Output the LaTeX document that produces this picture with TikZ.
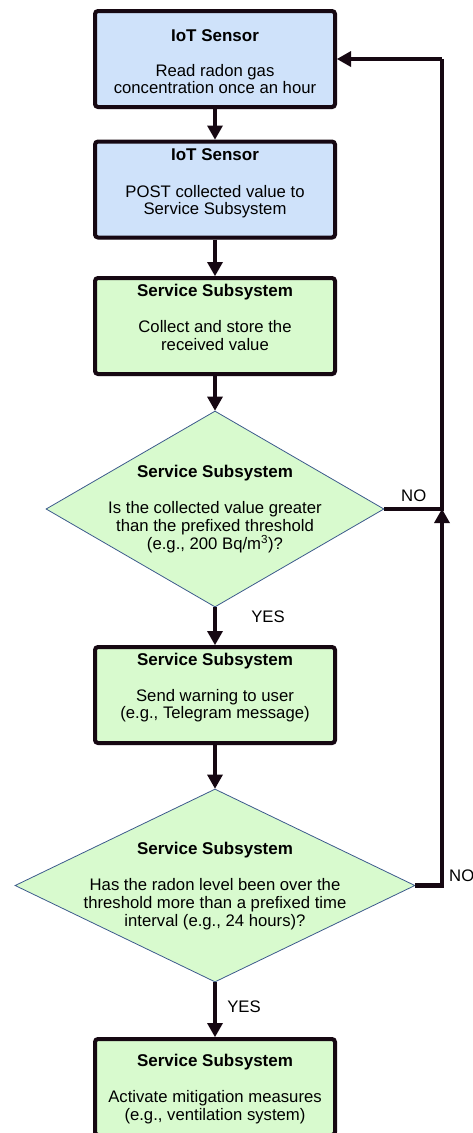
\documentclass[tikz,border=0pt]{standalone}
\usepackage{fontspec}
\setmainfont{Liberation Sans}
\usetikzlibrary{arrows.meta,shapes.geometric,shadows}
\definecolor{bluefill}{RGB}{207,226,250}
\definecolor{greenfill}{RGB}{216,250,206}
\definecolor{ink}{RGB}{22,8,18}
\definecolor{dline}{RGB}{60,90,140}
\tikzset{
  box/.style={rectangle, rounded corners=3pt, draw=ink, line width=4pt,
    minimum width=240pt, minimum height=96pt, inner sep=0pt,
    drop shadow={opacity=0.3, shadow xshift=1.5pt, shadow yshift=-2pt}},
  bluebox/.style={box, fill=bluefill},
  greenbox/.style={box, fill=greenfill},
  decision/.style={diamond, draw=dline, line width=0.8pt, fill=greenfill, inner sep=0pt},
  ttl/.style={anchor=base, inner sep=0pt, font=\fontsize{17}{20}\selectfont\bfseries},
  txt/.style={anchor=base, inner sep=0pt, font=\fontsize{16.7}{19}\selectfont},
  lbl/.style={anchor=base west, inner sep=0pt, font=\fontsize{16.7}{19}\selectfont},
  flow/.style={draw=ink, line width=4.5pt, line join=miter,
    -{Triangle[width=16pt,length=14pt,line width=0pt]}},
  plain/.style={draw=ink, line width=4.5pt, line join=miter}
}
\begin{document}
\begin{tikzpicture}[x=1pt,y=-1pt]
\useasboundingbox (0,0) rectangle (473,1133);

% boxes
\node[bluebox] (b1) at (215,59) {};
\node[bluebox] (b2) at (215,189.5) {};
\node[greenbox] (b3) at (215,326) {};
\node[decision, minimum width=338pt, minimum height=196pt] (d1) at (215,509) {};
\node[greenbox] (b4) at (215,695) {};
\node[decision, minimum width=400pt, minimum height=193pt] (d2) at (215,885.5) {};
\node[greenbox] (b5) at (215,1087) {};

% texts
\node[ttl] (t1) at (215,41) {IoT Sensor};
\node[txt] (t1a) at (215,76) {Read radon gas};
\node[txt] (t1b) at (215,93) {concentration once an hour};

\node[ttl] (t2) at (215,160) {IoT Sensor};
\node[txt] (t2a) at (215,197) {POST collected value to};
\node[txt] (t2b) at (215,214) {Service Subsystem};

\node[ttl] (t3) at (215,296) {Service Subsystem};
\node[txt] (t3a) at (215,332) {Collect and store the};
\node[txt] (t3b) at (215,350) {received value};

\node[ttl] (t4) at (215,477) {Service Subsystem};
\node[txt] (t4a) at (215,513) {Is the collected value greater};
\node[txt] (t4b) at (215,531) {than the prefixed threshold};
\node[txt] (t4c) at (215,549.5) {(e.g., 200 Bq/m\textsuperscript{3})?};

\node[ttl] (t5) at (215,665) {Service Subsystem};
\node[txt] (t5a) at (215,701) {Send warning to user};
\node[txt] (t5b) at (215,718.5) {(e.g., Telegram message)};

\node[ttl] (t6) at (215,854) {Service Subsystem};
\node[txt] (t6a) at (215,890) {Has the radon level been over the};
\node[txt] (t6b) at (215,908) {threshold more than a prefixed time};
\node[txt] (t6c) at (215,926) {interval (e.g., 24 hours)?};

\node[ttl] (t7) at (215,1066) {Service Subsystem};
\node[txt] (t7a) at (215,1102) {Activate mitigation measures};
\node[txt] (t7b) at (215,1120.5) {(e.g., ventilation system)};

% connectors
\draw[flow] (b1) -- (b2);
\draw[flow] (b2) -- (b3);
\draw[flow] (b3) -- (d1.north);
\draw[flow] (d1.south) -- (b4) node[lbl, pos=0.4, xshift=34pt] (yes1) {YES};
\draw[flow] (b4) -- (d2.north);
\draw[flow] (d2.south) -- (b5) node[lbl, pos=0.55, xshift=10pt] (yes2) {YES};

\coordinate (j1) at (442,509);
\coordinate (j0) at (442,59);
\draw[plain] (d1.east) -- (j1) -- (j0);
\draw[flow] (j0) -- (b1.east);
\draw[flow] (d2.east) -| (j1);

\node[lbl] (no1) at (401,501) {NO};
\node[lbl] (no2) at (449,881) {NO};
\end{tikzpicture}
\end{document}
